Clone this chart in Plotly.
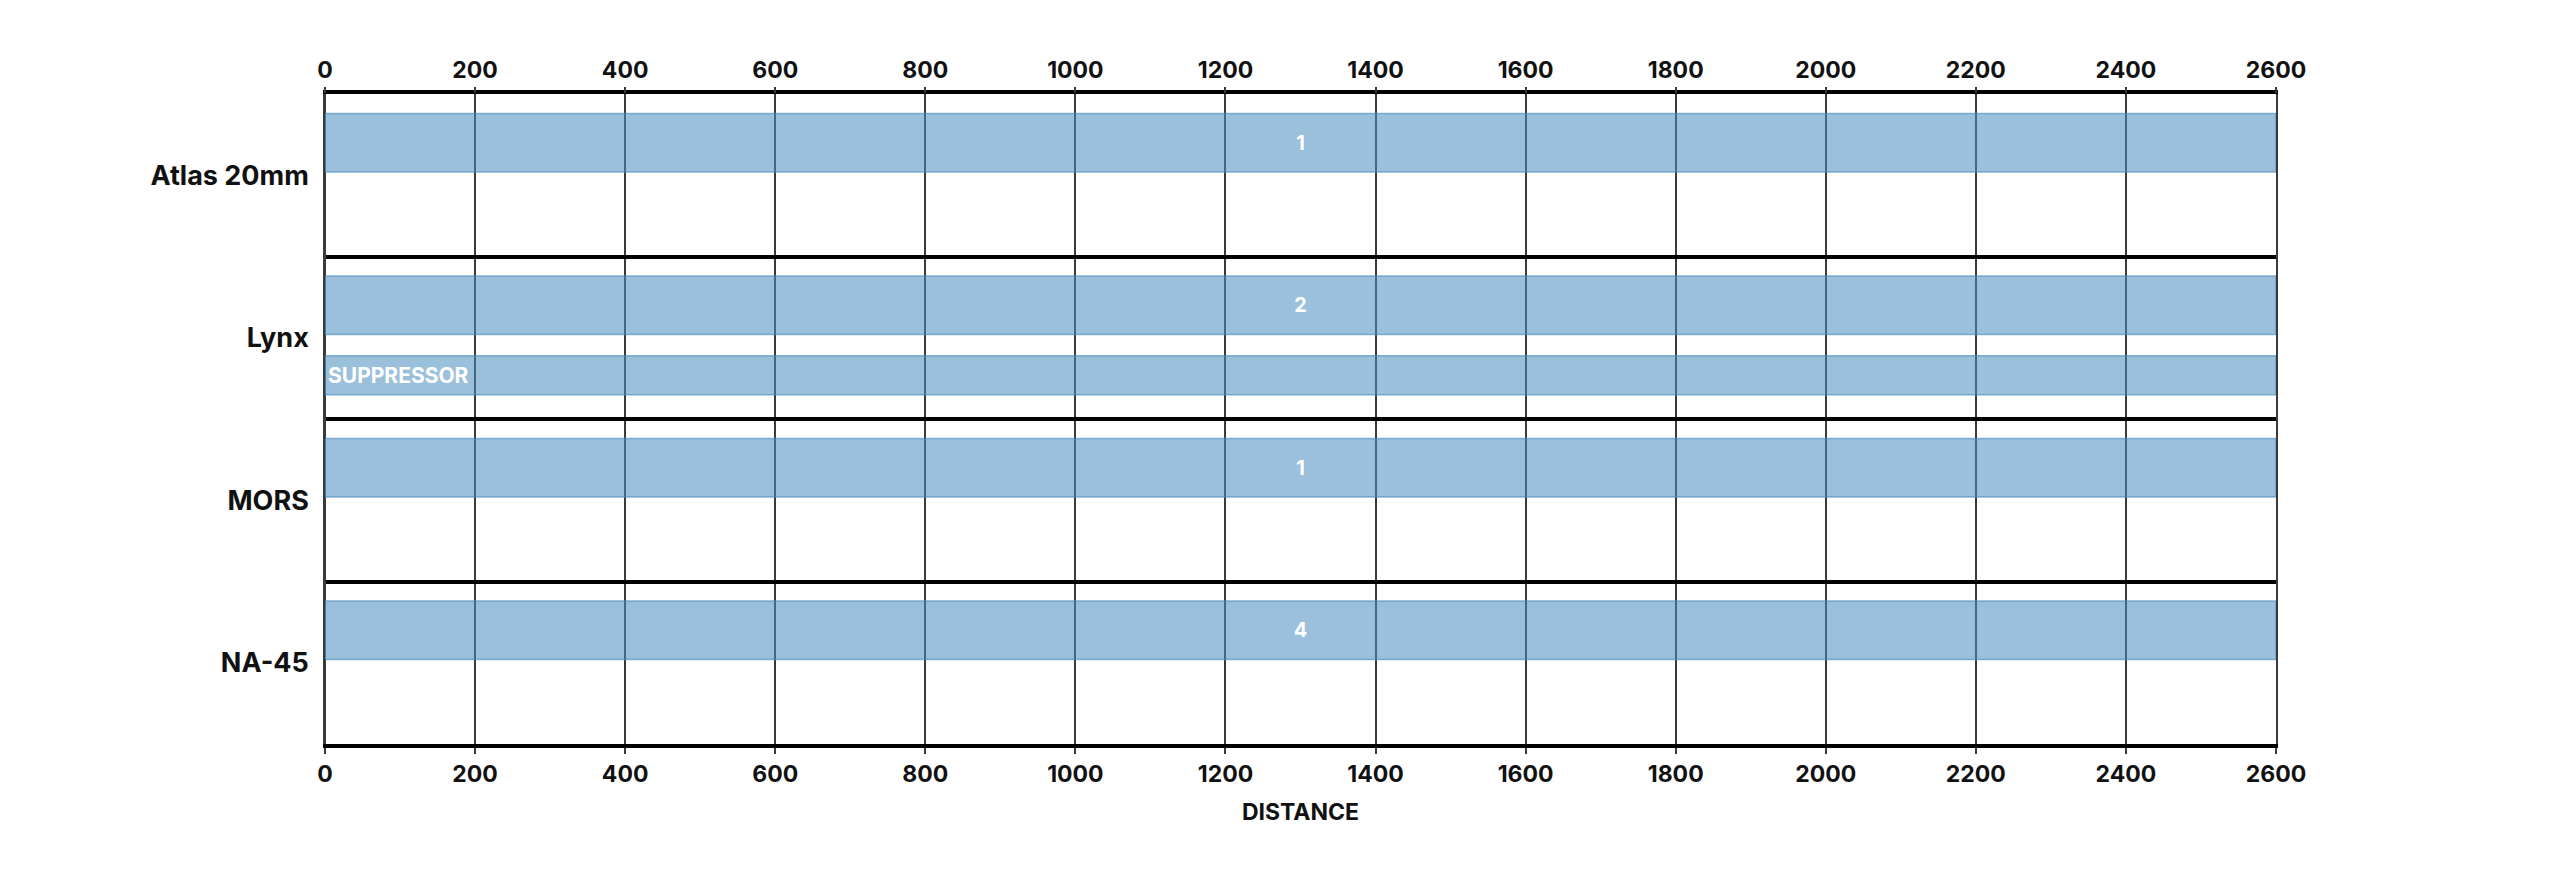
import plotly.graph_objects as go

# Data
systems = ["Atlas 20mm", "Lynx", "MORS", "NA-45"]
max_distance = [2600, 2600, 2600, 2600]
counts = ["1", "2", "1", "4"]

suppressor_systems = ["Lynx"]
suppressor_distance = [2600]
suppressor_text = ["SUPPRESSOR"]

tick_values = list(range(0, 2601, 200))

FONT = "Inter"
BAR_FILL = "rgba(73,140,190,0.55)"
BAR_EDGE = "rgba(73,140,190,0.65)"
GRID = "#3a3a3a"

fig = go.Figure()

fig.add_trace(go.Bar(
    y=systems, x=max_distance, orientation="h",
    text=counts, textposition="inside", insidetextanchor="middle",
    textfont=dict(family=FONT, size=20, color="white", weight="bold"),
    marker=dict(color=BAR_FILL, line=dict(color=BAR_EDGE, width=1.5)),
    offset=-0.38, width=0.36, showlegend=False, hoverinfo="x+y",
))

fig.add_trace(go.Bar(
    y=suppressor_systems, x=suppressor_distance, orientation="h",
    text=suppressor_text, textposition="inside", insidetextanchor="start",
    textfont=dict(family=FONT, size=21, color="white", weight="bold"),
    marker=dict(color=BAR_FILL, line=dict(color=BAR_EDGE, width=1.5)),
    offset=0.11, width=0.24, showlegend=False, hoverinfo="x+y",
))

# invisible trace so the top axis gets drawn
fig.add_trace(go.Scatter(
    x=[0, 2600], y=[systems[0], systems[0]], xaxis="x2",
    mode="markers", marker=dict(opacity=0), showlegend=False, hoverinfo="skip",
))

tick_font = dict(family=FONT, size=23, color="#111", weight="bold")

fig.update_layout(
    width=2550, height=873,
    margin=dict(l=317, r=282, t=86, b=137, pad=0),
    paper_bgcolor="white", plot_bgcolor="white",
    barmode="overlay",
    font=dict(family=FONT, color="#111"),
    xaxis=dict(
        range=[0, 2600], tickvals=tick_values,
        showgrid=True, gridcolor=GRID, gridwidth=1.5,
        zeroline=True, zerolinecolor=GRID, zerolinewidth=1.5,
        showline=True, linecolor="black", linewidth=4, mirror=True,
        ticks="outside", ticklen=6, tickwidth=1.5, tickcolor=GRID,
        tickfont=tick_font,
        title=dict(text="DISTANCE", standoff=18,
                   font=dict(family=FONT, size=23, color="#111", weight="bold")),
    ),
    xaxis2=dict(
        range=[0, 2600], tickvals=tick_values, overlaying="x", side="top",
        matches="x", showgrid=False, zeroline=False, showline=False,
        ticks="outside", ticklen=6, tickwidth=1.5, tickcolor=GRID,
        tickfont=tick_font,
    ),
    yaxis=dict(
        categoryorder="array", categoryarray=systems, autorange="reversed",
        tickson="boundaries", ticks="",
        showgrid=True, gridcolor="black", gridwidth=3.5,
        showline=True, linecolor=GRID, linewidth=1.5, mirror=True,
        ticklabelstandoff=9,
        tickfont=dict(family=FONT, size=27, color="#111", weight="bold"),
    ),
)

fig.write_html("out.html")
